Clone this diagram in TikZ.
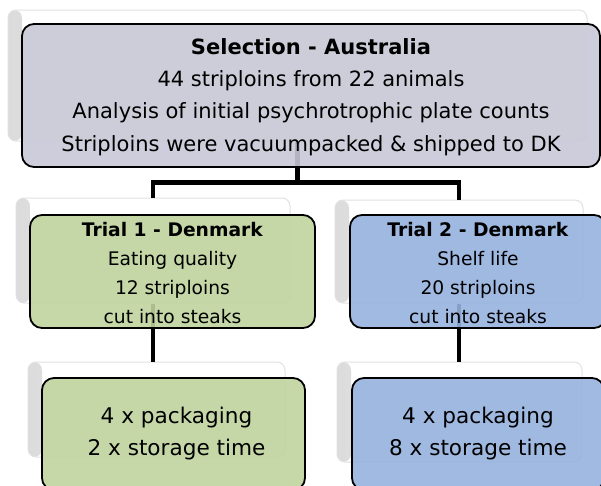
\documentclass[tikz,border=0pt]{standalone}
\usepackage{fontspec}
\setmainfont{DejaVu Sans}
\definecolor{topfill}{RGB}{200,200,215}
\definecolor{greenfill}{RGB}{192,211,158}
\definecolor{bluefill}{RGB}{150,178,222}
\definecolor{backedge}{RGB}{225,225,230}
\tikzset{
  backbox/.style={draw=backedge, line width=1pt, fill=white, rounded corners=8pt, inner sep=0pt,
    path picture={\shade[left color=black!14, right color=white]
      (path picture bounding box.north west) rectangle ([xshift=14pt]path picture bounding box.south west);}},
  frontbox/.style={draw=black, line width=1.8pt, rounded corners=12pt, inner sep=0pt,
    fill opacity=0.9, text opacity=1, align=center},
  conn/.style={draw=black, line width=4.5pt},
}
\begin{document}
\begin{tikzpicture}[x=1pt,y=-1pt]
\useasboundingbox (0,0) rectangle (601,485);
% back boxes
\node[backbox, minimum width=579pt, minimum height=131pt] (topb) at (297.5,75.5) {};
\node[backbox, minimum width=274pt, minimum height=105pt] (t1b) at (153,250.5) {};
\node[backbox, minimum width=248pt, minimum height=103pt] (t2b) at (459,251.5) {};
\node[backbox, minimum width=257pt, minimum height=95pt] (b1b) at (156.5,409.5) {};
\node[backbox, minimum width=245pt, minimum height=100pt] (b2b) at (459.5,412) {};
% connectors
\draw[conn] (topb.south) -- ++(0,41) coordinate (jn) -| (t1b.north);
\draw[conn] (jn) -| (t2b.north);
\draw[conn] (t1b.south) -- (t1b.south |- b1b.north);
\draw[conn] (t2b.south) -- (t2b.south |- b2b.north);
% front boxes
\node[frontbox, fill=topfill, minimum width=578pt, minimum height=143pt] (top) at (311,95.5) {};
\node[align=center, font=\fontsize{21}{32.3}\selectfont] (toptext) at (311,97)
  {\textbf{Selection - Australia}\\44 striploins from 22 animals\\Analysis of initial psychrotrophic plate counts\\Striploins were vacuumpacked \& shipped to DK};
\node[frontbox, fill=greenfill, minimum width=285pt, minimum height=113pt] (t1) at (172.5,271.5) {};
\node[align=center, font=\fontsize{18.7}{28.7}\selectfont] (t1text) at (172.5,273)
  {\textbf{Trial 1 - Denmark}\\Eating quality\\12 striploins\\cut into steaks};
\node[frontbox, fill=bluefill, minimum width=256pt, minimum height=113pt] (t2) at (478,271.5) {};
\node[align=center, font=\fontsize{18.7}{28.7}\selectfont] (t2text) at (478,273)
  {\textbf{Trial 2 - Denmark}\\Shelf life\\20 striploins\\cut into steaks};
\node[frontbox, fill=greenfill, minimum width=263pt, minimum height=112pt] (b1) at (173.5,434) {};
\node[align=center, font=\fontsize{21.6}{32}\selectfont] (b1text) at (176.5,433.5)
  {4 x packaging\\2 x storage time};
\node[frontbox, fill=bluefill, minimum width=252pt, minimum height=112pt] (b2) at (478,434) {};
\node[align=center, font=\fontsize{21.6}{32}\selectfont] (b2text) at (478,433.5)
  {4 x packaging\\8 x storage time};
\end{tikzpicture}
\end{document}
